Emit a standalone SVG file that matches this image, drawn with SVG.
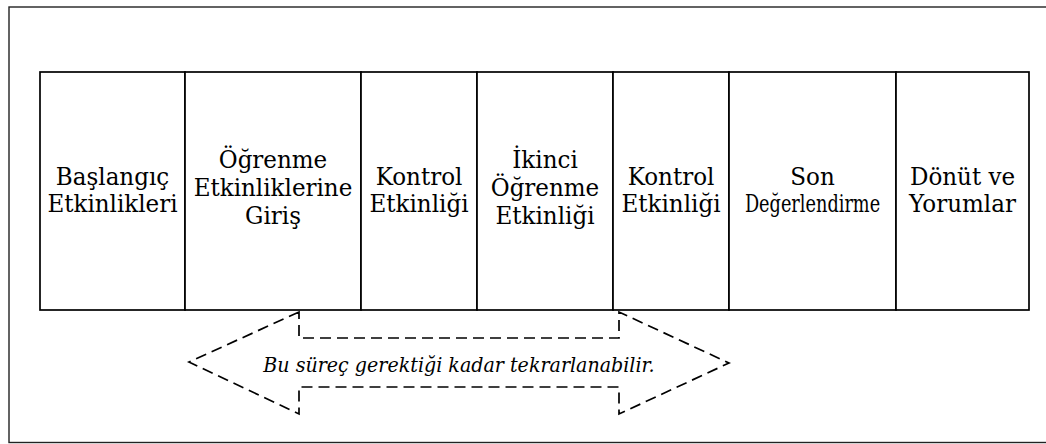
<svg xmlns="http://www.w3.org/2000/svg" width="1046" height="444" viewBox="0 0 1046 444">
  <style>
    .frame { fill: none; stroke: #222; stroke-width: 1.4; }
    .box { fill: #fff; stroke: #000; stroke-width: 1.7; }
    .lbl { font-family: 'DejaVu Serif', serif; font-size: 23.5px; fill: #000; text-anchor: middle; }
    .loop { fill: none; stroke: #000; stroke-width: 1.7; stroke-dasharray: 11 6; }
    .note { font-family: 'DejaVu Serif', serif; font-size: 20.5px; font-style: italic; fill: #000; text-anchor: middle; }
  </style>
  <rect width="1046" height="444" fill="#fff"/>
  <!-- outer border (right side runs off the canvas) -->
  <rect class="frame" x="9" y="7" width="1050" height="435.5"/>

  <g id="n1">
    <rect class="box" x="40" y="72" width="145" height="238"/>
    <text class="lbl" transform="matrix(0.98 0 0 1 112.5 0)"><tspan x="0" y="185">Başlangıç</tspan><tspan x="0" y="212">Etkinlikleri</tspan></text>
  </g>
  <g id="n2">
    <rect class="box" x="185" y="72" width="176" height="238"/>
    <text class="lbl" transform="matrix(0.98 0 0 1 273 0)"><tspan x="0" y="168">Öğrenme</tspan><tspan x="0" y="196">Etkinliklerine</tspan><tspan x="0" y="224">Giriş</tspan></text>
  </g>
  <g id="n3">
    <rect class="box" x="361" y="72" width="116" height="238"/>
    <text class="lbl" transform="matrix(0.98 0 0 1 419 0)"><tspan x="0" y="185">Kontrol</tspan><tspan x="0" y="212">Etkinliği</tspan></text>
  </g>
  <g id="n4">
    <rect class="box" x="477" y="72" width="136" height="238"/>
    <text class="lbl" transform="matrix(0.98 0 0 1 545 0)"><tspan x="0" y="168">İkinci</tspan><tspan x="0" y="196">Öğrenme</tspan><tspan x="0" y="224">Etkinliği</tspan></text>
  </g>
  <g id="n5">
    <rect class="box" x="613" y="72" width="116" height="238"/>
    <text class="lbl" transform="matrix(0.98 0 0 1 671 0)"><tspan x="0" y="185">Kontrol</tspan><tspan x="0" y="212">Etkinliği</tspan></text>
  </g>
  <g id="n6">
    <rect class="box" x="729" y="72" width="167" height="238"/>
    <text class="lbl" transform="matrix(0.98 0 0 1 812.5 0)"><tspan x="0" y="185">Son</tspan></text>
    <text class="lbl" transform="matrix(0.98 0 0 1 812.5 0)" x="0" y="212" textLength="138" lengthAdjust="spacingAndGlyphs">Değerlendirme</text>
  </g>
  <g id="n7">
    <rect class="box" x="896" y="72" width="133" height="238"/>
    <text class="lbl" transform="matrix(0.98 0 0 1 962.5 0)"><tspan x="0" y="185">Dönüt ve</tspan><tspan x="0" y="212">Yorumlar</tspan></text>
  </g>

  <g id="connectors">
    <!-- dashed double-headed loop arrow -->
    <path class="loop" d="M299,312 L189,362 L299,414 L299,387 L619,387 L619,414 L729,363 L619,312 L619,338 L299,338 Z"/>
    <text class="note" transform="matrix(0.93 0 0 1 459 0)" x="0" y="372">Bu süreç gerektiği kadar tekrarlanabilir.</text>
  </g>
</svg>
